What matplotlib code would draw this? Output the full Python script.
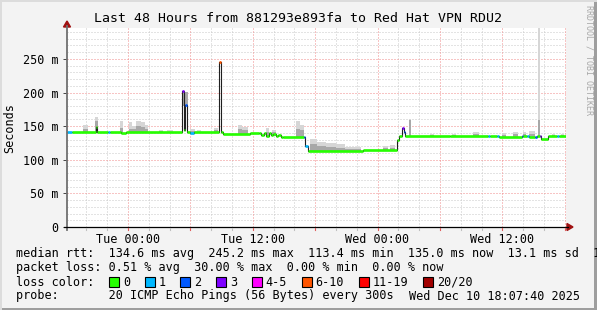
import numpy as np
import matplotlib
matplotlib.use('Agg')
from matplotlib import pyplot as plt
from matplotlib.patches import Rectangle, Polygon
from matplotlib.lines import Line2D

plt.rcParams['lines.scale_dashes'] = False

W, H = 597, 310
MONO = 'DejaVu Sans Mono'

# hours from Tue 00:00, graph covers 48 h ending Wed 18:07:40
t_start = -5.872
t_end = 42.128

# median rtt as steps: start hour, value in ms, lost pings (of 20)
med_t = [-5.87, -5.40, -3.05, -2.95, -1.90, -1.70, -0.70, -0.20,
         5.22, 5.38, 5.48, 5.64, 6.00, 6.30, 8.75, 8.90, 9.10, 11.70,
         12.60, 12.83, 13.06, 13.29, 13.52, 13.75, 13.98, 14.21, 14.44, 14.67,
         14.90, 16.90, 17.05, 17.35, 22.60, 25.85, 26.10, 26.40, 26.50, 26.62,
         31.00, 34.60, 34.80, 35.45, 35.65, 37.85, 38.00, 38.40, 38.55,
         39.15, 39.30, 39.60, 39.75, 40.40, 41.25, 41.45]
med_ms = [142, 141.5, 149, 141.5, 141.5, 141.5, 140.5, 141.5,
          202, 145, 182, 141, 140, 141, 245, 141, 139, 139.5,
          140.4, 137.4, 139.4, 135.4, 140.4, 136.4, 138.4, 135.4, 137.4, 134.4,
          134.5, 134, 121, 113.5, 114.5, 130, 135, 147, 142, 135.5,
          135, 135, 135, 135, 134.5, 135, 135, 135, 134.5,
          134, 135, 135, 131.5, 135, 135, 135]
med_loss = [1, 0, 0, 0, 1, 0, 0, 0,
            3, 0, 2, 0, 1, 0, 6, 0, 0, 0,
            0, 0, 0, 0, 0, 0, 0, 0, 0, 0,
            0, 2, 1, 0, 0, 0, 0, 3, 2, 0,
            0, 1, 0, 1, 0, 2, 0, 1, 0,
            2, 0, 3, 0, 0, 1, 0]

# smoke (ping spread): start hour, end hour, max ms, dense part top ms
smoke_t0 = [-4.3, -3.15, -0.75, 0.1, 0.35, 0.8, 1.2, 1.6, 3.0, 3.7, 5.3, 6.0, 6.6,
            8.3, 10.6, 11.0, 13.3, 13.8, 16.2, 16.5,
            17.5, 18.2, 19.0, 20.0, 20.9, 24.5, 25.2, 27.0,
            29.0, 31.2, 33.2, 36.0, 37.0, 38.0, 38.6, 39.45, 40.8, 41.6]
smoke_t1 = [-3.9, -2.9, -0.45, 0.35, 0.8, 1.2, 1.6, 1.95, 3.4, 4.3, 5.75, 6.4, 7.0,
            8.7, 11.0, 11.5, 13.6, 14.2, 16.5, 16.9,
            18.2, 19.0, 20.0, 20.9, 22.4, 25.0, 25.7, 27.2,
            29.4, 31.5, 33.8, 36.4, 37.5, 38.3, 39.1, 39.65, 41.1, 41.9]
smoke_max = [152, 164, 157, 156, 150, 157, 156, 152, 145, 144, 183, 146, 144,
             147, 152, 149, 147, 145, 157, 152,
             131, 127, 125, 123, 119, 120, 122, 161,
             139, 139, 141, 140, 142, 141, 143, 296, 138, 139]
smoke_mid = [146, 158, 147, 146, 146, 150, 149, 146, 143, 142, 180, 143, 142,
             144, 146, 145, 142, 141, 146, 144,
             124, 121, 119, 118, 116, 117, 118, 159,
             137, 137, 138, 137, 138, 138, 139, 159, 137, 137]

loss_labels = ['0', '1', '2', '3', '4-5', '6-10', '11-19', '20/20']
loss_colors = ['#26ff00', '#00b8ff', '#0059ff', '#7e00ff', '#ff00ff',
               '#ff5500', '#ff0000', '#a10000']

x_ticks = [0, 12, 24, 36]
x_labels = ['Tue 00:00', 'Tue 12:00', 'Wed 00:00', 'Wed 12:00']
y_ticks = [0, 50, 100, 150, 200, 250]
y_labels = ['0', '50 m', '100 m', '150 m', '200 m', '250 m']

legend_lines = [
    'median rtt:  134.6 ms avg  245.2 ms max  113.4 ms min  135.0 ms now  13.1 ms sd  1',
    'packet loss: 0.51 % avg  30.00 % max  0.00 % min  0.00 % now',
    'loss color:',
    'probe:       20 ICMP Echo Pings (56 Bytes) every 300s',
]
stamp = 'Wed Dec 10 18:07:40 2025'


def loss_bucket(n):
    if n <= 3:
        return n
    if n <= 5:
        return 4
    if n <= 10:
        return 5
    if n <= 19:
        return 6
    return 7


def px(x, y):
    return x / W, 1 - y / H


fig = plt.figure(figsize=(W / 100, H / 100), dpi=100, facecolor='#f3f3f3')
ax = fig.add_axes([67 / W, 1 - 227 / H, 499 / W, 199 / H], facecolor='white')
ax.set_xlim(t_start, t_end)
ax.set_ylim(0, 296)
for s in ax.spines.values():
    s.set_visible(False)

# grid, dotted
for t in np.arange(-4, 43, 2):
    major = (t % 6 == 0)
    ax.axvline(t, color='#f08a8a' if major else '#c8c8c8', lw=0.72,
               ls=(0, (0.72, 1.44)), zorder=0.5 if major else 0)
for v in np.arange(10, 296, 10):
    major = (v % 50 == 0)
    ax.axhline(v, color='#f08a8a' if major else '#c8c8c8', lw=0.72,
               ls=(0, (0.72, 1.44)), zorder=0.5 if major else 0)

# smoke
med_t_arr = np.array(med_t)
for a, b, top, mid in zip(smoke_t0, smoke_t1, smoke_max, smoke_mid):
    i = np.searchsorted(med_t_arr, a, side='right') - 1
    base = med_ms[max(i, 0)] - 1.5
    ax.bar(a, top - base, width=b - a, bottom=base, align='edge',
           color='#d6d6d6', linewidth=0, zorder=1)
    ax.bar(a, mid - base, width=b - a, bottom=base, align='edge',
           color='#a8a8a8', linewidth=0, zorder=1)

# median: thin dark step line, then loss coloured segments
ax.step(med_t + [t_end], med_ms + [med_ms[-1]], where='post',
        color='#202020', lw=0.8, zorder=2)
ends = med_t[1:] + [t_end]
for a, b, v, n in zip(med_t, ends, med_ms, med_loss):
    ax.hlines(v, a, b, color=loss_colors[loss_bucket(n)], lw=1.9, zorder=3)

ax.set_xticks(x_ticks, labels=x_labels)
ax.set_yticks(y_ticks, labels=y_labels)
ax.tick_params(axis='x', length=0, pad=4, labelsize=8.5)
ax.tick_params(axis='y', length=3, width=0.7, color='#444444', pad=3, labelsize=8.5)
for lab in ax.get_xticklabels() + ax.get_yticklabels():
    lab.set_family(MONO)

# axes with arrows
fig.add_artist(Line2D(*zip(px(67, 230), px(67, 26)), color='#707070', lw=1.3))
fig.add_artist(Line2D(*zip(px(64, 227), px(568, 227)), color='black', lw=0.9))
fig.add_artist(Polygon([px(63.5, 27), px(70.5, 27), px(67, 21)], closed=True,
                       color='#a01010'))
fig.add_artist(Polygon([px(567, 223.5), px(567, 230.5), px(573, 227)], closed=True,
                       color='#a01010'))
for t in np.arange(-4, 43, 2):
    xp = 67 + (t - t_start) * 499 / 48
    c = '#e06060' if t % 6 == 0 else '#c0c0c0'
    fig.add_artist(Line2D(*zip(px(xp, 228), px(xp, 230)), color=c, lw=0.8))

# titles and labels
fig.text(0.5, 1 - 19 / H, 'Last 48 Hours from 881293e893fa to Red Hat VPN RDU2',
         ha='center', va='center', fontsize=9.55, family=MONO)
fig.text(*px(10, 128), 'Seconds', rotation=90, ha='center', va='center',
         fontsize=8.5, family=MONO)
fig.text(*px(589, 5), 'RRDTOOL / TOBI OETIKER', rotation=270, ha='center', va='top',
         fontsize=6, color='#a8a8a8', family=MONO)

# legend
cw = 7.13
for k, line in enumerate(legend_lines):
    fig.text(*px(16, 254 + 14 * k), line, ha='left', va='center',
             fontsize=8.5, family=MONO)
fig.text(*px(580, 296), stamp, ha='right', va='center', fontsize=8.5, family=MONO)
idx = 15
for lab, col in zip(loss_labels, loss_colors):
    bx = 16 + (idx - 2) * cw + 0.5
    x0, y0 = px(bx, 286.5)
    fig.add_artist(Rectangle((x0, y0), 10 / W, 9.5 / H, facecolor=col,
                             edgecolor='black', lw=0.8))
    fig.text(*px(16 + idx * cw, 282), lab, ha='left', va='center',
             fontsize=8.5, family=MONO)
    idx += len(lab) + 4

# image border shading
fig.add_artist(Rectangle((0, 0), 1, 2 / H, color='#9e9e9e', lw=0))
fig.add_artist(Rectangle((1 - 3 / W, 0), 3 / W, 1, color='#9e9e9e', lw=0))
fig.add_artist(Rectangle((0, 1 - 2 / H), 1, 2 / H, color='#dcdcdc', lw=0))
fig.add_artist(Rectangle((0, 0), 2 / W, 1, color='#dcdcdc', lw=0))

fig.savefig('out.png', dpi=100, facecolor=fig.get_facecolor())
